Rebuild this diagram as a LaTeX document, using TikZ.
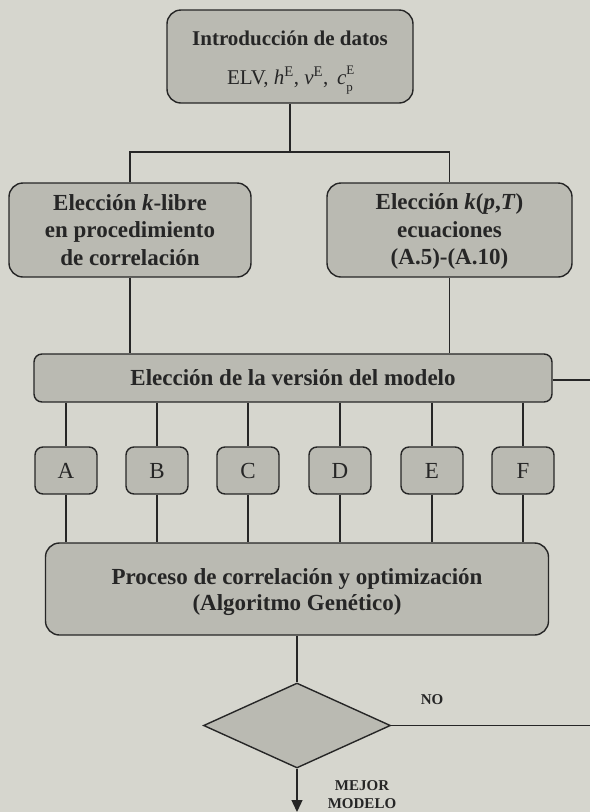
\documentclass[tikz,border=0pt]{standalone}
\usepackage{fontspec}
\setmainfont{Liberation Serif}
\usetikzlibrary{shapes.geometric,arrows.meta}
\definecolor{bg}{RGB}{214,214,206}
\definecolor{boxfill}{RGB}{186,186,178}
\definecolor{ink}{RGB}{38,38,38}
\tikzset{
  box/.style={draw=ink, fill=boxfill, line width=1.4pt, rounded corners=14pt, inner sep=0pt, align=center,
    text=ink, font=\bfseries\fontsize{23}{27.5}\selectfont},
  smallbox/.style={draw=ink, fill=boxfill, line width=1.4pt, rounded corners=8pt, inner sep=0pt,
    minimum width=62pt, minimum height=47pt, text=ink, font=\fontsize{23}{27}\selectfont},
  conn/.style={draw=ink, line width=1.3pt},
  lbl/.style={text=ink, align=center, font=\bfseries\fontsize{15}{18}\selectfont}
}
\begin{document}
\begin{tikzpicture}[x=1pt,y=-1pt]
\fill[bg] (0,0) rectangle (590,812);
\useasboundingbox (0,0) rectangle (590,812);

\node[box, minimum width=246pt, minimum height=93pt] (top) at (290,56.5)
  {\fontsize{21}{25}\selectfont\rule{0pt}{27pt}Introducción de datos\\[11pt]
   \mdseries\fontsize{21}{25}\selectfont ELV, \textit{h}\textsuperscript{E}, \textit{v}\textsuperscript{E}, \,\textit{c}\rlap{\raisebox{1.0ex}{\fontsize{13}{13}\selectfont E}}\raisebox{-0.7ex}{\fontsize{13}{13}\selectfont p}};

\node[box, minimum width=242pt, minimum height=94pt] (left) at (130,230)
  {Elección \textit{k}-libre\\en procedimiento\\de correlación};
\node[box, minimum width=245pt, minimum height=94pt] (right) at (449.5,230)
  {\rule{0pt}{19pt}Elección \textit{k}(\textit{p},\textit{T})\\ecuaciones\\(A.5)-(A.10)};

\node[box, rounded corners=8pt, minimum width=518pt, minimum height=48pt] (version) at (293,378)
  {Elección de la versión del modelo};

\node[smallbox] (A) at (66,470.5) {A};
\node[smallbox] (B) at (157,470.5) {B};
\node[smallbox] (C) at (248,470.5) {C};
\node[smallbox] (D) at (340,470.5) {D};
\node[smallbox] (E) at (432,470.5) {E};
\node[smallbox] (F) at (523,470.5) {F};

\node[box, font=\bfseries\fontsize{23}{26}\selectfont, minimum width=503pt, minimum height=92pt] (proc) at (297,589)
  {\rule{0pt}{22pt}Proceso de correlación y optimización\\(Algoritmo Genético)};

\node[diamond, draw=ink, fill=boxfill, line width=1.4pt, inner sep=0pt, minimum width=187pt, minimum height=85pt] (dia) at (297,725.5) {};

\node[lbl] (no) at (432,700) {NO};
\node[lbl] (mejor) at (362,795) {MEJOR\\MODELO};

% connectors
\coordinate (j) at (290,152);
\draw[conn] (top.south) -- (j);
\draw[conn] (left.north) |- (j) -| (right.north);
\draw[conn] (left.south) -- (left.south |- version.north);
\draw[conn] (right.south) -- (right.south |- version.north);
\foreach \n in {A,B,C,D,E,F}{
  \draw[conn] (\n.north |- version.south) -- (\n.north);
  \draw[conn] (\n.south) -- (\n.south |- proc.north);
}
\draw[conn] (proc.south) -- (dia.north);
\coordinate (fbTop) at (590,380);
\coordinate (fbBot) at (590,725.5);
\draw[conn] (version.east |- fbTop) -- (fbTop);
\draw[conn] (dia.east) -- (fbBot);
\coordinate (out) at (297,812);
\draw[conn, -{Triangle[length=12pt,width=11pt]}] (dia.south) -- (out);
\end{tikzpicture}
\end{document}
